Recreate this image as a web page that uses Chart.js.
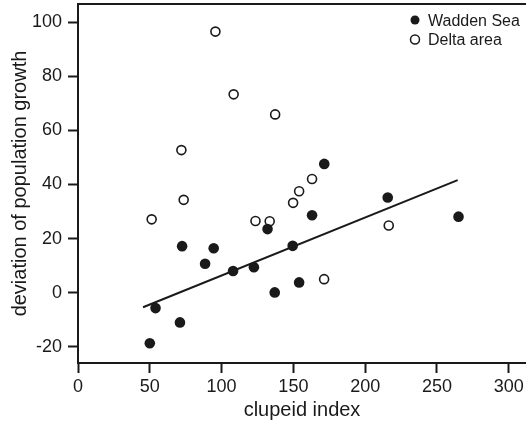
<!DOCTYPE html>
<html>
<head>
<meta charset="utf-8">
<script src="https://cdn.jsdelivr.net/npm/chart.js@4/dist/chart.umd.min.js"></script>
<style>
  html, body { margin: 0; padding: 0; background: #fff; }
  #wrap { width: 526px; height: 425px; position: relative; }
</style>
</head>
<body>
<div id="wrap"><canvas id="chart"></canvas></div>
<script>
// --- DADOS ---
const waddenX = [50, 54, 71, 72.5, 88.5, 94.5, 108, 122.5, 132, 137, 149.5, 154, 163, 171.5, 215.7, 265];
const waddenY = [-18.7, -5.7, -11, 17.2, 10.7, 16.4, 8, 9.4, 23.5, 0.1, 17.3, 3.8, 28.6, 47.6, 35.2, 28.1];
const deltaX = [51.3, 72, 73.6, 95.7, 108.4, 137.3, 123.6, 133.5, 149.8, 154, 163, 171.4, 216.4];
const deltaY = [27.1, 52.7, 34.3, 96.5, 73.3, 65.9, 26.5, 26.4, 33.2, 37.5, 42, 5, 24.8];
const fitX = [45.3, 264.4];
const fitY = [-5.4, 41.6];
const xTicks = [0, 50, 100, 150, 200, 250, 300];
const yTicks = [-20, 0, 20, 40, 60, 80, 100];
const seriesLabels = ['Wadden Sea', 'Delta area'];

const toPoints = (xs, ys) => xs.map((x, i) => ({ x: x, y: ys[i] }));
const ink = '#1a1a1a';
const fontFamily = '"Liberation Sans", Arial, Helvetica, sans-serif';

// legenda desenhada dentro da área do gráfico (canto superior direito)
const legendPlugin = {
  id: 'innerLegend',
  afterDraw(chart) {
    const ctx = chart.ctx;
    const area = chart.chartArea;
    ctx.save();
    // linha superior da moldura
    ctx.strokeStyle = ink;
    ctx.lineWidth = 2;
    ctx.beginPath();
    ctx.moveTo(area.left - 1, area.top);
    ctx.lineTo(chart.width, area.top);
    ctx.stroke();

    ctx.font = '16px ' + fontFamily;
    ctx.textBaseline = 'alphabetic';
    ctx.fillStyle = ink;
    const mx = 415, tx = 428;
    [0, 1].forEach((i) => {
      const ds = chart.data.datasets[i];
      const cy = 20 + i * 19.5;
      ctx.beginPath();
      ctx.arc(mx, cy, 4.5, 0, Math.PI * 2);
      if (i === 0) {
        ctx.fillStyle = ink;
        ctx.fill();
      } else {
        ctx.lineWidth = 1.5;
        ctx.strokeStyle = ink;
        ctx.stroke();
      }
      ctx.fillStyle = ink;
      ctx.fillText(ds.label, tx, cy + 5.8);
    });
    ctx.restore();
  },
};

const ctx = document.getElementById('chart').getContext('2d');
new Chart(ctx, {
  type: 'scatter',
  data: {
    datasets: [
      {
        label: seriesLabels[0],
        data: toPoints(waddenX, waddenY),
        pointRadius: 5.3,
        pointBackgroundColor: ink,
        pointBorderColor: ink,
        pointBorderWidth: 0,
      },
      {
        label: seriesLabels[1],
        data: toPoints(deltaX, deltaY),
        pointRadius: 4.5,
        pointBackgroundColor: '#fff',
        pointBorderColor: ink,
        pointBorderWidth: 1.6,
      },
      {
        label: 'fit',
        data: toPoints(fitX, fitY),
        showLine: true,
        pointRadius: 0,
        borderColor: ink,
        borderWidth: 2,
      },
    ],
  },
  options: {
    responsive: true,
    maintainAspectRatio: false,
    animation: false,
    layout: { autoPadding: false, padding: { top: 4, right: 0, left: 0, bottom: 0 } },
    plugins: {
      legend: { display: false },
      tooltip: { enabled: false },
    },
    scales: {
      x: {
        type: 'linear',
        min: 0,
        max: 312,
        afterBuildTicks: (scale) => { scale.ticks = xTicks.map((v) => ({ value: v })); },
        afterFit: (scale) => {
          scale.height = 62;
          scale.paddingLeft = 0;
          scale.paddingRight = 0;
        },
        grid: { display: true, drawOnChartArea: false, tickLength: 10, tickWidth: 2, tickColor: ink },
        border: { display: true, color: ink, width: 2 },
        ticks: { color: ink, padding: 3, maxRotation: 0, font: { family: fontFamily, size: 18 } },
        title: {
          display: true,
          text: 'clupeid index',
          color: ink,
          padding: { top: 0, bottom: 3 },
          font: { family: fontFamily, size: 20 },
        },
      },
      y: {
        type: 'linear',
        min: -26,
        max: 106.7,
        afterBuildTicks: (scale) => { scale.ticks = yTicks.map((v) => ({ value: v })); },
        afterFit: (scale) => {
          scale.width = 78;
          scale.paddingTop = 0;
          scale.paddingBottom = 0;
        },
        grid: { display: true, drawOnChartArea: false, tickLength: 10, tickWidth: 2, tickColor: ink },
        border: { display: true, color: ink, width: 2 },
        ticks: { color: ink, padding: 6, font: { family: fontFamily, size: 18 } },
        title: {
          display: true,
          text: 'deviation of population growth',
          color: ink,
          padding: { top: 8, bottom: 0 },
          font: { family: fontFamily, size: 20 },
        },
      },
    },
  },
  plugins: [legendPlugin],
});
</script>
</body>
</html>
